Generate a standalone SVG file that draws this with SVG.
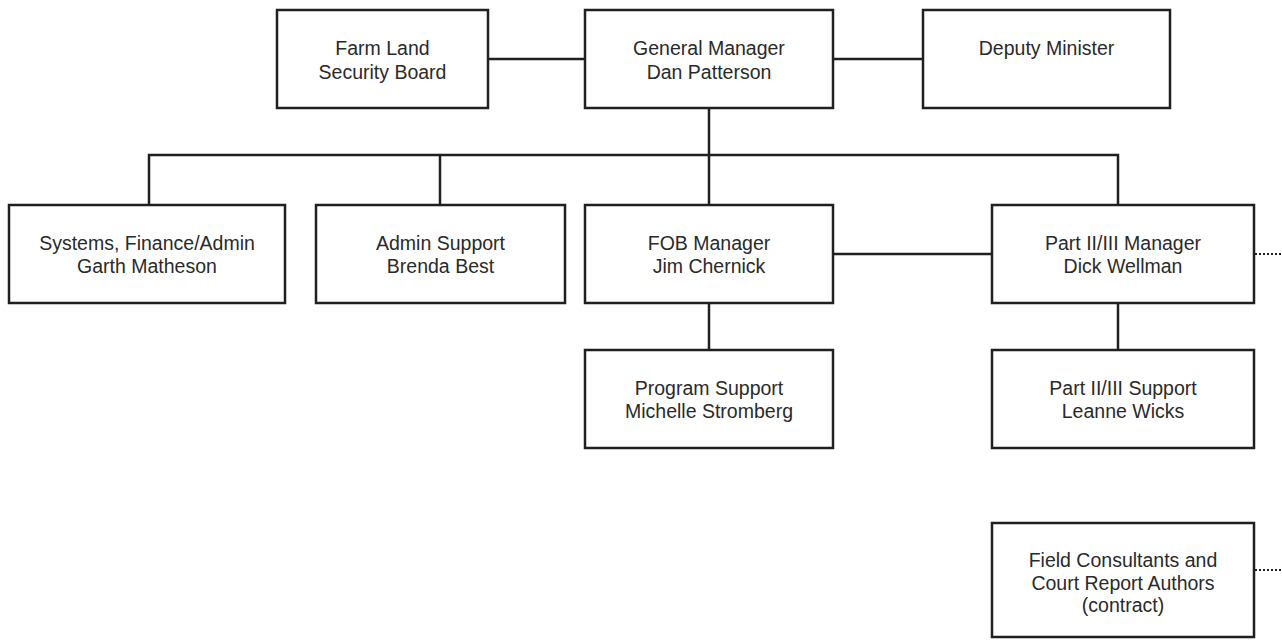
<svg xmlns="http://www.w3.org/2000/svg" width="1282" height="641" viewBox="0 0 1282 641">
<style>
.box{fill:#fff;stroke:#231f20;stroke-width:2.5}
.ln{fill:none;stroke:#231f20;stroke-width:2.5}
.dot{fill:none;stroke:#231f20;stroke-width:2;stroke-dasharray:2 2}
text{font-family:"Liberation Sans",Arial,sans-serif;font-size:19.5px;fill:#2a2a2a;text-anchor:middle}
</style>
<rect width="1282" height="641" fill="#fff"/>
<g id="connectors">
<line class="ln" x1="488" y1="59" x2="585" y2="59"/>
<line class="ln" x1="833" y1="59" x2="923" y2="59"/>
<line class="ln" x1="709" y1="108" x2="709" y2="205"/>
<polyline class="ln" points="149,205 149,155 1118,155 1118,205"/>
<line class="ln" x1="440" y1="155" x2="440" y2="205"/>
<line class="ln" x1="833" y1="254" x2="992" y2="254"/>
<line class="ln" x1="709" y1="303" x2="709" y2="350"/>
<line class="ln" x1="1118" y1="303" x2="1118" y2="350"/>
<line class="dot" x1="1255" y1="254" x2="1282" y2="254"/>
<line class="dot" x1="1255" y1="570" x2="1282" y2="570"/>
</g>
<g id="farm-land">
<rect class="box" x="277" y="10" width="211" height="98"/>
<text x="382.5" y="55">Farm Land</text>
<text x="382.5" y="79">Security Board</text>
</g>
<g id="general-manager">
<rect class="box" x="585" y="10" width="248" height="98"/>
<text x="709" y="55">General Manager</text>
<text x="709" y="79">Dan Patterson</text>
</g>
<g id="deputy-minister">
<rect class="box" x="923" y="10" width="247" height="98"/>
<text x="1046.5" y="55">Deputy Minister</text>
</g>
<g id="systems">
<rect class="box" x="9" y="205" width="276" height="98"/>
<text x="147" y="250">Systems, Finance/Admin</text>
<text x="147" y="273">Garth Matheson</text>
</g>
<g id="admin-support">
<rect class="box" x="316" y="205" width="249" height="98"/>
<text x="440.5" y="250">Admin Support</text>
<text x="440.5" y="273">Brenda Best</text>
</g>
<g id="fob-manager">
<rect class="box" x="585" y="205" width="248" height="98"/>
<text x="709" y="250">FOB Manager</text>
<text x="709" y="273">Jim Chernick</text>
</g>
<g id="part-manager">
<rect class="box" x="992" y="205" width="262" height="98"/>
<text x="1123" y="250">Part II/III Manager</text>
<text x="1123" y="273">Dick Wellman</text>
</g>
<g id="program-support">
<rect class="box" x="585" y="350" width="248" height="98"/>
<text x="709" y="395">Program Support</text>
<text x="709" y="418">Michelle Stromberg</text>
</g>
<g id="part-support">
<rect class="box" x="992" y="350" width="262" height="98"/>
<text x="1123" y="395">Part II/III Support</text>
<text x="1123" y="418">Leanne Wicks</text>
</g>
<g id="field-consultants">
<rect class="box" x="992" y="523" width="262" height="114"/>
<text x="1123" y="567">Field Consultants and</text>
<text x="1123" y="590">Court Report Authors</text>
<text x="1123" y="612">(contract)</text>
</g>
</svg>
